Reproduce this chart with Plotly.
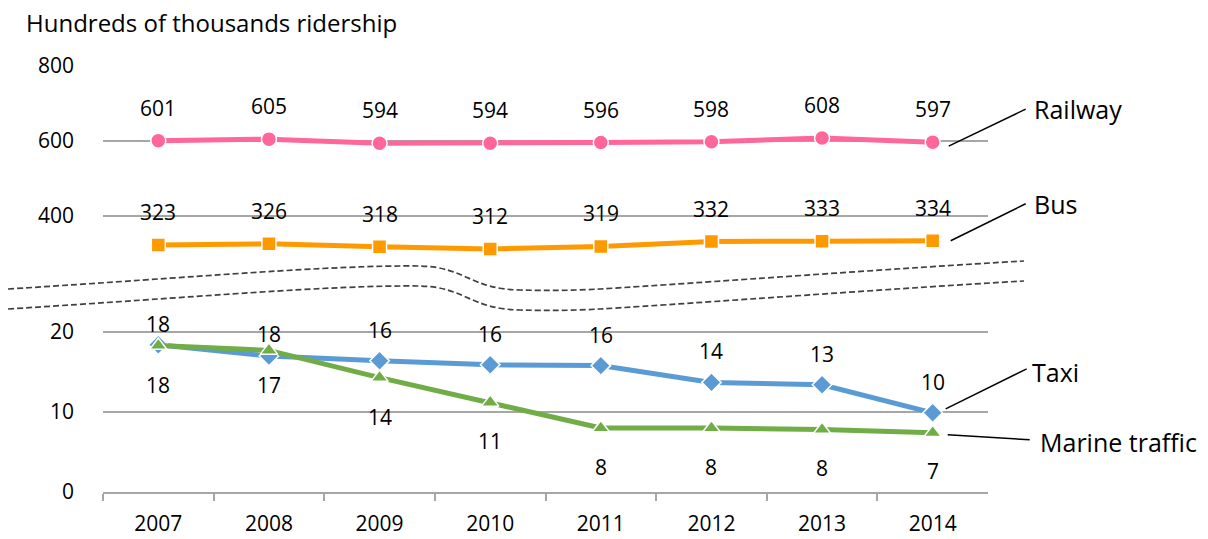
import plotly.graph_objects as go

# ---------------- data ----------------
years = ["2007", "2008", "2009", "2010", "2011", "2012", "2013", "2014"]
railway = [601, 605, 594, 594, 596, 598, 608, 597]
bus = [323, 326, 318, 312, 319, 332, 333, 334]
taxi = [18.4, 17.0, 16.4, 15.9, 15.8, 13.7, 13.4, 9.9]
marine = [18.3, 17.7, 14.3, 11.2, 8.0, 8.0, 7.8, 7.4]
series_names = ["Railway", "Bus", "Taxi", "Marine traffic"]
upper_ticks = [400, 600, 800]
lower_ticks = [0, 10, 20]
title_text = "Hundreds of thousands ridership"

# ---------------- style ----------------
W, H = 1208, 539
FONT = "Open Sans"
FS = 21
GRID = "#a6a6a6"
colors = {"Railway": "#FF6699", "Bus": "#FF9900", "Taxi": "#5B9BD5", "Marine traffic": "#70AD47"}

def px(x):
    return x / W

def py(y):
    return 1 - y / H

XDOM = [px(103), px(988)]

# label vertical offsets (pixels, + = up)
rail_shift = [33] * 8
bus_shift = [33] * 8
taxi_shift = [21, -28.5, 31, 31, 31, 31, 31, 31]
marine_shift = [-39, 16, -39.5, -38.5, -38.5, -38.5, -38.5, -38]

fig = go.Figure()

specs = [("Railway", railway, "circle", 15, "y"),
         ("Bus", bus, "square", 14, "y"),
         ("Taxi", taxi, "diamond", 15, "y2"),
         ("Marine traffic", marine, "triangle-up", 15, "y2")]
for name, vals, sym, msize, yax in specs:
    fig.add_trace(go.Scatter(x=years, y=vals, name=name, mode="lines+markers",
                             line=dict(color=colors[name], width=5),
                             marker=dict(symbol=sym, size=msize, color=colors[name],
                                         line=dict(color="white", width=1.5)),
                             xaxis="x", yaxis=yax, cliponaxis=False))

annotations = []
for vals, shifts, yref in [(railway, rail_shift, "y"), (bus, bus_shift, "y"),
                           (taxi, taxi_shift, "y2"), (marine, marine_shift, "y2")]:
    for i, (v, s) in enumerate(zip(vals, shifts)):
        annotations.append(dict(x=i, y=v, xref="x", yref=yref, text=str(round(v)),
                                showarrow=False, yshift=s, yanchor="middle",
                                font=dict(family=FONT, size=FS, color="black")))

# title
annotations.append(dict(x=px(24), y=py(23), xref="paper", yref="paper", text=title_text,
                        showarrow=False, xanchor="left", yanchor="middle",
                        font=dict(family=FONT, size=24, color="black")))

# series name labels
name_pos = {"Railway": (1032, 109), "Bus": (1032, 204), "Taxi": (1030, 372), "Marine traffic": (1038, 442)}
for n in series_names:
    x, y = name_pos[n]
    annotations.append(dict(x=px(x), y=py(y), xref="paper", yref="paper", text=n,
                            showarrow=False, xanchor="left", yanchor="middle",
                            font=dict(family=FONT, size=25, color="black")))

shapes = []
# leader lines anchored at last point of each series (pixel offsets)
n_cat = len(years)
last_x = XDOM[0] + (n_cat - 0.5) / n_cat * (XDOM[1] - XDOM[0])
leaders = [("y", railway[-1], (16, -4, 93, 33)),
           ("y", bus[-1], (18, 0, 93, 37)),
           ("y2", taxi[-1], (13, 4, 94, 44)),
           ("y2", marine[-1], (15, -2, 97, -7))]
for yref, yv, (x0, y0, x1, y1) in leaders:
    shapes.append(dict(type="line", xref="paper", yref=yref, xsizemode="pixel", ysizemode="pixel",
                       xanchor=last_x, yanchor=yv, x0=x0, y0=y0, x1=x1, y1=y1,
                       line=dict(color="black", width=1.5)))

# axis-break dashed curves
def curve(dy):
    pts = [(8, 289),
           (200, 277), (330, 265), (420, 266),
           (465, 267), (470, 289), (520, 290),
           (560, 291), (580, 290), (600, 289),
           (700, 283), (900, 268), (1024, 261)]
    p = [(px(x), py(y + dy)) for x, y in pts]
    s = "M %.5f,%.5f " % p[0]
    for i in range(1, len(p), 3):
        s += "C %.5f,%.5f %.5f,%.5f %.5f,%.5f " % (p[i] + p[i + 1] + p[i + 2])
    return s

for dy in (0, 20):
    shapes.append(dict(type="path", xref="paper", yref="paper", path=curve(dy),
                       line=dict(color="#404040", width=1.7, dash="6px,3px")))

tf = dict(family=FONT, size=FS, color="black")
fig.update_layout(
    width=W, height=H, margin=dict(l=0, r=0, t=0, b=0, autoexpand=False),
    paper_bgcolor="white", plot_bgcolor="white", showlegend=False,
    font=tf,
    xaxis=dict(type="category", domain=XDOM, anchor="y2", range=[-0.5, n_cat - 0.5],
               automargin=False, showline=True, linecolor=GRID, linewidth=1.5, showgrid=False,
               ticks="outside", tickson="boundaries", ticklen=7, tickcolor=GRID, tickwidth=1.5,
               tickangle=0, ticklabelstandoff=12, tickfont=tf),
    yaxis=dict(domain=[py(290), py(66)], range=[800 - 224 / 0.375, 800], anchor="x",
               automargin=False, tickvals=upper_ticks, showgrid=True, gridcolor=GRID, gridwidth=1.5,
               zeroline=False, showline=False, ticks="", ticklabelstandoff=28, tickfont=tf),
    yaxis2=dict(domain=[py(492), py(318)], range=[0, 174 / 8.0], anchor="x",
                automargin=False, tickvals=lower_ticks, showgrid=True, gridcolor=GRID, gridwidth=1.5,
                zeroline=False, showline=False, ticks="", ticklabelstandoff=28, tickfont=tf),
    annotations=annotations, shapes=shapes,
)

fig.write_html("out.html", config={"displayModeBar": False},
               post_script="document.body.style.margin='0px';document.body.style.overflow='hidden';")
